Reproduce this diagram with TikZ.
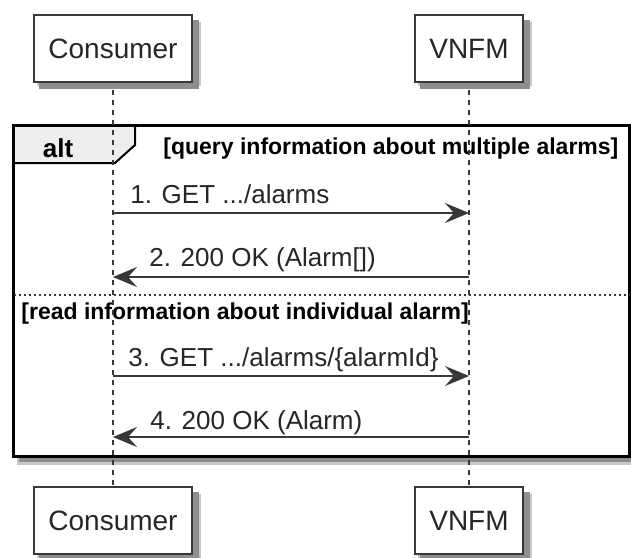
\documentclass[tikz,border=0pt]{standalone}
\usepackage{fontspec}
\setmainfont{Liberation Sans}
\usetikzlibrary{arrows.meta, positioning, backgrounds}
\definecolor{linegray}{HTML}{383838}
\definecolor{tabgray}{HTML}{EEEEEE}
\definecolor{shadowgray}{HTML}{8E8E8E}
\definecolor{shadowlight}{HTML}{C8C8C8}
\tikzset{
    participant/.style={
        rectangle, draw=linegray, fill=white, line width=1pt,
        minimum height=33.5pt, inner xsep=7pt,
        font=\fontsize{14}{16}\selectfont, text=black!85
    },
    box shadow/.style={
        fill=shadowgray
    },
    lifeline/.style={
        draw=linegray, line width=0.8pt, dash pattern=on 2.5pt off 2.5pt
    },
    msg/.style={
        -{Stealth[length=12pt, width=10pt, inset=4.5pt]}, line width=1pt, color=linegray
    },
    msg label/.style={
        font=\fontsize{13}{15}\selectfont, text=black!85, inner sep=0pt, anchor=base west
    },
    guard/.style={
        font=\bfseries\fontsize{11.5}{13}\selectfont, inner sep=0pt, anchor=base west
    },
    alt label/.style={
        font=\bfseries\fontsize{13}{15}\selectfont, inner sep=0pt, anchor=base
    },
    alt tab/.style={
        draw=black, fill=tabgray, line width=1pt
    },
    frame/.style={
        draw=black, line width=1.5pt
    },
    separator/.style={
        draw=linegray, line width=0.8pt, dash pattern=on 1pt off 1.5pt
    }
}

\begin{document}
\begin{tikzpicture}[x=0.5pt, y=-0.5pt]
    \useasboundingbox (0,0) rectangle (631,557);

    % Frame
    \fill[shadowlight] (17,129) rectangle (640,465);
    \fill[box shadow] (18.5,130.5) rectangle (636,462);
    \fill[white] (13.5,125.5) rectangle (629,456);
    \draw[alt tab] (13.5,125.5) -- (135,125.5) -- (135,145) -- (115,163) -- (13.5,163) -- cycle;
    \node[alt label] (alt) at (58,157) {alt};
    \draw[frame] (13.5,125.5) rectangle (629,456);
    \draw[separator] (13.5,295) -- (629,295);
    \node[guard] (guard1) at (163,154) {[query information about multiple alarms]};
    \node[guard] (guard2) at (21,319) {[read information about individual alarm]};

    % Participants
    \node[participant] (constop) at (113,48.5) {Consumer};
    \node[participant] (vnfmtop) at (469,48.5) {VNFM};
    \node[participant] (consbot) at (113,520.5) {Consumer};
    \node[participant] (vnfmbot) at (469,520.5) {VNFM};

    \begin{scope}[on background layer]
        \foreach \p in {constop, vnfmtop, consbot, vnfmbot} {
            \fill[shadowlight] ([shift={(2pt,-1.5pt)}]\p.south west) rectangle ([shift={(4pt,-4pt)}]\p.north east);
            \fill[box shadow] ([shift={(3pt,-3pt)}]\p.south west) rectangle ([shift={(3pt,-3pt)}]\p.north east);
        }
    \end{scope}

    % Lifelines
    \draw[lifeline] ([yshift=-3.5pt]constop.south) -- (consbot.north);
    \draw[lifeline] ([yshift=-3.5pt]vnfmtop.south) -- (vnfmbot.north);

    % Messages
    \coordinate (c1) at (constop |- 0,213);
    \coordinate (v1) at (vnfmtop |- 0,213);
    \coordinate (c2) at (constop |- 0,277);
    \coordinate (v2) at (vnfmtop |- 0,277);
    \coordinate (c3) at (constop |- 0,376);
    \coordinate (v3) at (vnfmtop |- 0,376);
    \coordinate (c4) at (constop |- 0,437);
    \coordinate (v4) at (vnfmtop |- 0,437);

    \draw[msg] (c1) -- (v1);
    \draw[msg] (v2) -- (c2);
    \draw[msg] (c3) -- (v3);
    \draw[msg] (v4) -- (c4);

    \node[msg label] (m1) at (130,203) {1. GET .../alarms};
    \node[msg label] (m2) at (149,266) {2. 200 OK (Alarm[])};
    \node[msg label] (m3) at (128,366) {3. GET .../alarms/\{alarmId\}};
    \node[msg label] (m4) at (150,429) {4. 200 OK (Alarm)};

\end{tikzpicture}
\end{document}
